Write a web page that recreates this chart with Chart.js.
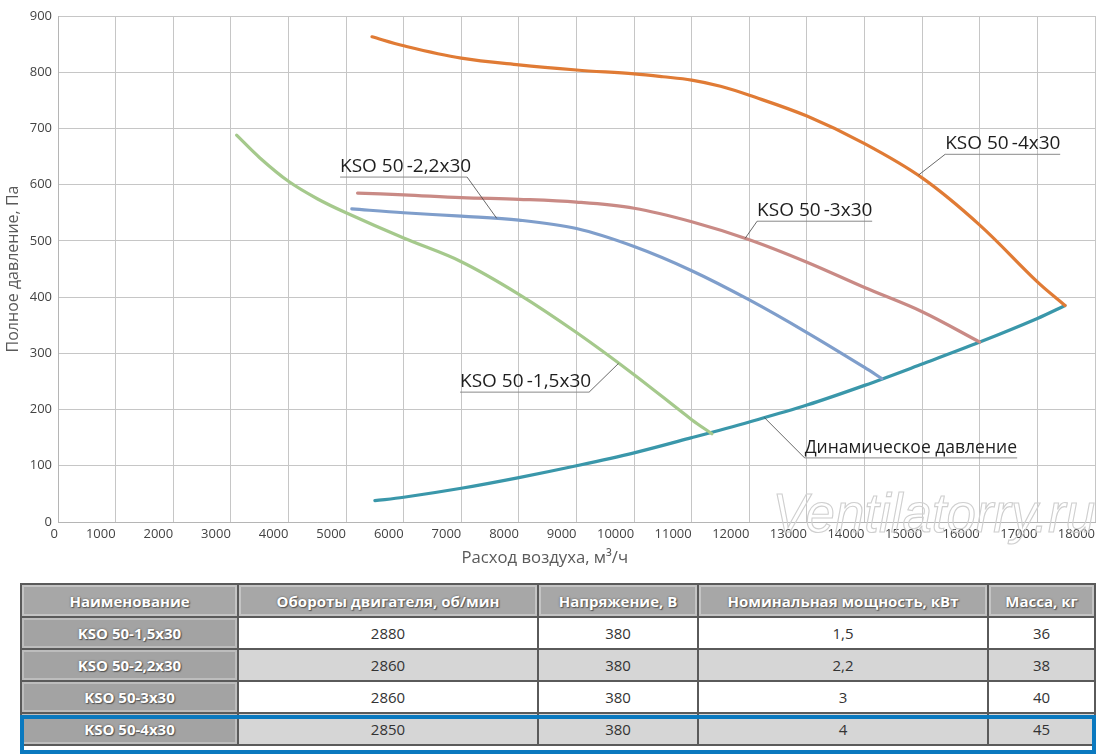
<!DOCTYPE html>
<html>
<head>
<meta charset="utf-8">
<script src="https://cdn.jsdelivr.net/npm/chart.js@4.4.1/dist/chart.umd.min.js"></script>
<style>
  html, body { margin: 0; padding: 0; background: #fff; }
  #wrap { position: relative; width: 1100px; height: 755px; }
  #c { position: absolute; left: 0; top: 0; }
  table.spec { position: absolute; left: 20px; top: 583px; width: 1074px; border-collapse: collapse;
    font-family: "Open Sans", "Noto Sans", sans-serif; table-layout: fixed; }
  table.spec td, table.spec th { border: 2px solid #5a5a5a; text-align: center; padding: 0; font-size: 15px; color: #333; }
  table.spec th { height: 31px; background: #a7a7a7; color: #fff; font-weight: 700; text-shadow: 0 0 2px #555, 1px 1px 1px #555;
    box-shadow: inset 0 0 0 2px #c4c4c4; }
  table.spec td { height: 30px; }
  table.spec td.name { background: #a3a3a3; color: #fff; font-weight: 700; text-shadow: 0 0 2px #555, 1px 1px 1px #555;
    box-shadow: inset 0 0 0 2px #bdbdbd; }
  table.spec tr.odd td { background: #fff; }
  table.spec tr.even td { background: #d6d6d6; }
  table.spec tr td.name { background: #a3a3a3; }
  #hl { position: absolute; left: 20px; top: 715px; width: 1068px; height: 31px; border: 4px solid #0a79bf; pointer-events: none; }
</style>
</head>
<body>
<div id="wrap">
  <canvas id="c" width="1100" height="575"></canvas>
  <table class="spec" id="spec"></table>
  <div id="hl"></div>
</div>
<script>
// ---------- DATA ----------
const xTicks = [0,1000,2000,3000,4000,5000,6000,7000,8000,9000,10000,11000,12000,13000,14000,15000,16000,17000,18000];
const yTicks = [0,100,200,300,400,500,600,700,800,900];

const kso15_x = [3100, 3500, 4000, 4500, 5000, 6000, 7000, 8000, 9000, 10000, 11000, 11350];
const kso15_y = [688, 648, 606, 575, 550, 505, 463, 405, 337, 262, 182, 157];

const kso22_x = [5100, 6000, 7000, 8000, 9000, 10000, 11000, 12000, 13000, 14000, 14300];
const kso22_y = [557, 550, 544, 537, 522, 490, 447, 395, 337, 275, 255];

const kso3_x = [5200, 6000, 7000, 8000, 9000, 10000, 11000, 12000, 13000, 14000, 15000, 16000];
const kso3_y = [585, 582, 577, 574, 569, 558, 534, 502, 462, 417, 374, 320];

const kso4_x = [5450, 6000, 7000, 8000, 9000, 10000, 10500, 11000, 11500, 12000, 13000, 14000, 15000, 16000, 17000, 17480];
const kso4_y = [863, 847, 825, 813, 804, 797, 792, 786, 775, 759, 722, 673, 612, 528, 427, 385];

const dyn_x = [5500, 6000, 7000, 8000, 9000, 10000, 11000, 12000, 13000, 14000, 15000, 16000, 17000, 17480];
const dyn_y = [38, 44, 60, 79, 100, 123, 150, 178, 208, 243, 281, 320, 362, 385];

const tableHeaders = ["Наименование", "Обороты двигателя, об/мин", "Напряжение, В", "Номинальная мощность, кВт", "Масса, кг"];
const tableNames = ["KSO 50-1,5x30", "KSO 50-2,2x30", "KSO 50-3x30", "KSO 50-4x30"];
const tableRpm = ["2880", "2860", "2860", "2850"];
const tableVolt = ["380", "380", "380", "380"];
const tablePower = ["1,5", "2,2", "3", "4"];
const tableMass = ["36", "38", "40", "45"];

// ---------- BUILD ----------
function pts(xs, ys) { return xs.map((x, i) => ({ x: x, y: ys[i] })); }
function ds(label, xs, ys, color) {
  return { label, data: pts(xs, ys), borderColor: color, backgroundColor: color, borderWidth: 3.2,
    pointRadius: 0, showLine: true, tension: 0.35, borderCapStyle: 'round' };
}

const notes = [
  { text: "KSO 50\u2009-4x30", x1: 15399, x2: 17396, y: 654, px: 14936, py: 617, from: 'start', size: 19 },
  { text: "KSO 50\u2009-2,2x30", x1: 4896, x2: 7101, y: 613.5, px: 7616, py: 540, from: 'end', size: 19 },
  { text: "KSO 50\u2009-3x30", x1: 12135, x2: 14132, y: 535, px: 11927, py: 504.5, from: 'start', size: 19 },
  { text: "KSO 50\u2009-1,5x30", x1: 6979, x2: 9219, y: 231, px: 9729, py: 282, from: 'end', size: 19 },
  { text: "Динамическое давление", x1: 12960, x2: 16649, y: 114, px: 12259, py: 186, from: 'start', size: 17.5 }
];
const xTitle = "Расход воздуха, м³/ч";

const watermarkPlugin = {
  id: 'wm',
  beforeDatasetsDraw(chart) {
    const ctx = chart.ctx, xs = chart.scales.x, ys = chart.scales.y;
    ctx.save();
    const t = "Ventilatorry.ru";
    const size = 56;
    ctx.font = "italic " + size + "px 'Liberation Sans'";
    const w = ctx.measureText(t).width;
    const x0 = xs.getPixelForValue(12400), x1 = xs.getPixelForValue(18000);
    const sx = (x1 - x0) / w;
    ctx.translate(x0, ys.getPixelForValue(-18));
    ctx.scale(sx, 1);
    ctx.strokeStyle = "#cfcfcf";
    ctx.lineWidth = 1.1 / sx;
    ctx.textBaseline = 'alphabetic';
    ctx.strokeText(t, 0, 0);
    ctx.restore();
  }
};

const notesPlugin = {
  id: 'notes',
  afterDatasetsDraw(chart) {
    const ctx = chart.ctx, xs = chart.scales.x, ys = chart.scales.y;
    ctx.save();
    notes.forEach(n => {
      const x1 = xs.getPixelForValue(n.x1), x2 = xs.getPixelForValue(n.x2), y = ys.getPixelForValue(n.y);
      const px = xs.getPixelForValue(n.px), py = ys.getPixelForValue(n.py);
      ctx.strokeStyle = "#8a8a8a"; ctx.lineWidth = 1;
      ctx.beginPath(); ctx.moveTo(x1, y); ctx.lineTo(x2, y); ctx.stroke();
      ctx.strokeStyle = "#444"; ctx.lineWidth = 0.8;
      ctx.beginPath(); ctx.moveTo(n.from === 'start' ? x1 : x2, y); ctx.lineTo(px, py); ctx.stroke();
      ctx.fillStyle = "#1e1e1e";
      ctx.font = n.size + "px 'Open Sans'";
      ctx.textAlign = 'left'; ctx.textBaseline = 'alphabetic';
      ctx.fillText(n.text, x1, y - 5);
    });
    // x-axis title (offset left of centre, as in the reference)
    ctx.fillStyle = "#5a5a5a";
    ctx.font = "16.7px 'Open Sans'";
    ctx.textAlign = 'center'; ctx.textBaseline = 'middle';
    ctx.fillText(xTitle, xs.getPixelForValue(8450), xs.bottom - 17);
    ctx.restore();
  }
};

new Chart(document.getElementById('c'), {
  type: 'scatter',
  data: {
    datasets: [
      ds("KSO 50-1,5x30", kso15_x, kso15_y, "#a5c98c"),
      ds("KSO 50-2,2x30", kso22_x, kso22_y, "#7f9ecb"),
      ds("KSO 50-3x30", kso3_x, kso3_y, "#c98a85"),
      ds("KSO 50-4x30", kso4_x, kso4_y, "#e07b35"),
      ds("Динамическое давление", dyn_x, dyn_y, "#3a97aa")
    ]
  },
  options: {
    responsive: false,
    animation: false,
    devicePixelRatio: 1,
    layout: { padding: { top: 16, right: 5, left: 0, bottom: 0 } },
    plugins: { legend: { display: false }, tooltip: { enabled: false } },
    scales: {
      x: {
        type: 'linear', min: xTicks[0], max: xTicks[xTicks.length - 1],
        afterBuildTicks(s) { s.ticks = xTicks.map(v => ({ value: v })); },
        afterFit(s) { s.height = 53; },
        grid: { color: "#c6c6c6", lineWidth: 1, drawTicks: false },
        border: { color: "#b5b5b5" },
        ticks: { align: 'end', maxRotation: 0, autoSkip: false, padding: 4, color: "#444",
          font: { family: "'Open Sans'", size: 13 }, callback: v => String(v) },
        title: { display: false }
      },
      y: {
        type: 'linear', min: yTicks[0], max: yTicks[yTicks.length - 1],
        afterBuildTicks(s) { s.ticks = yTicks.map(v => ({ value: v })); },
        afterFit(s) { s.width = 58; },
        grid: { color: "#c6c6c6", lineWidth: 1, drawTicks: false },
        border: { color: "#b5b5b5" },
        ticks: { padding: 6, color: "#444", font: { family: "'Open Sans'", size: 13 }, callback: v => String(v) },
        title: { display: true, text: "Полное давление, Па", color: "#5a5a5a",
          font: { family: "'Open Sans'", size: 16 }, padding: { top: 4, bottom: 0 } }
      }
    }
  },
  plugins: [watermarkPlugin, notesPlugin]
});

// ---------- TABLE ----------
(function buildTable() {
  const t = document.getElementById('spec');
  const widths = [217, 300, 160, 290, 107];
  let html = "<colgroup>" + widths.map(w => `<col style="width:${w}px">`).join("") + "</colgroup>";
  html += "<tr>" + tableHeaders.map(h => `<th>${h}</th>`).join("") + "</tr>";
  tableNames.forEach((n, i) => {
    html += `<tr class="${i % 2 === 0 ? 'odd' : 'even'}"><td class="name">${n}</td><td>${tableRpm[i]}</td><td>${tableVolt[i]}</td><td>${tablePower[i]}</td><td>${tableMass[i]}</td></tr>`;
  });
  t.innerHTML = html;
})();
</script>
</body>
</html>
